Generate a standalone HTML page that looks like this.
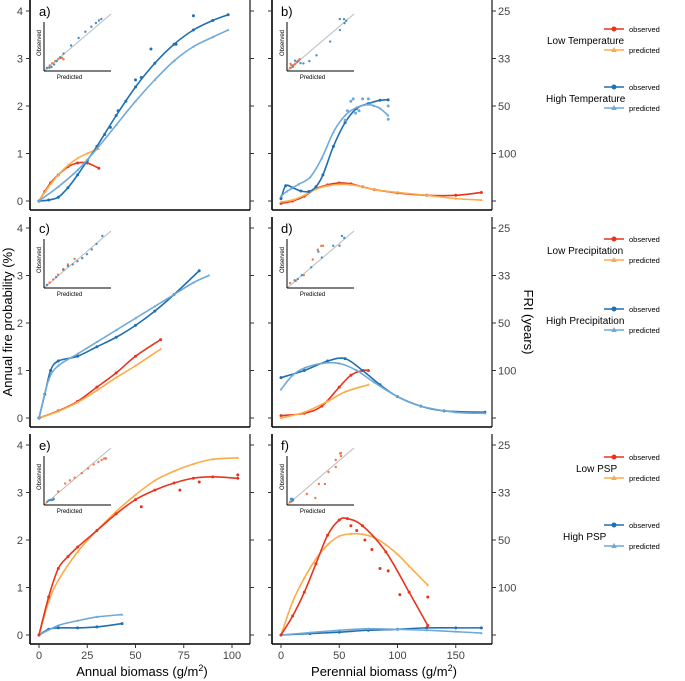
<!DOCTYPE html>
<html><head><meta charset="utf-8"><style>
body{margin:0;background:#fff;}
svg{display:block;font-family:"Liberation Sans",sans-serif;}
</style></head><body>
<svg id="chart" width="685" height="681" viewBox="0 0 685 681" xmlns="http://www.w3.org/2000/svg">
<g id="frames"></g>
<g id="marks"></g>
<text transform="translate(12,322) rotate(-90)" text-anchor="middle" font-size="13" fill="#000">Annual fire probability (%)</text>
<text transform="translate(524,322) rotate(90)" text-anchor="middle" font-size="13" fill="#000">FRI (years)</text>
<text x="142" y="676" text-anchor="middle" font-size="13">Annual biomass (g/m<tspan font-size="9" dy="-5">2</tspan><tspan dy="5">)</tspan></text>
<text x="384" y="676" text-anchor="middle" font-size="13">Perennial biomass (g/m<tspan font-size="9" dy="-5">2</tspan><tspan dy="5">)</tspan></text>
<g id="legend"></g>
</svg>
<script>
const NS="http://www.w3.org/2000/svg";
const RED="#e8341c",ORA="#fdab48",DB="#1f6fb2",LB="#6fa9d8";
// ---- data ----
const yTicks=[0,1,2,3,4];
const friLabels=["100","50","33","25"];
const annualTicks=[0,25,50,75,100];
const perennialTicks=[0,50,100,150];
// panel a
const aLowObsX=[0,3,6,10,15,20,25,31];const aLowObsY=[0,0.2,0.38,0.55,0.72,0.8,0.8,0.69];
const aLowPredX=[0,5,10,15,20,25,31];const aLowPredY=[0,0.3,0.55,0.75,0.9,1.0,1.1];
const aHighObsX=[0,5,10,15,20,25,30,40,50,60,70,80,90,98];const aHighObsY=[0,0.02,0.08,0.28,0.55,0.85,1.15,1.8,2.4,2.9,3.3,3.6,3.8,3.92];
const aHighPredX=[0,10,20,30,40,50,60,70,80,90,98];const aHighPredY=[0,0.3,0.65,1.1,1.6,2.1,2.55,2.95,3.25,3.45,3.6];
const aExtraX=[34,37,41,45,50,53,58,71,80];const aExtraY=[1.4,1.55,1.9,2.1,2.55,2.6,3.2,3.3,3.9];
// panel b
const bLowObsX=[0,10,20,30,40,50,60,70,80,100,125,150,172];const bLowObsY=[-0.05,0.0,0.1,0.26,0.34,0.38,0.36,0.3,0.24,0.17,0.12,0.12,0.18];
const bLowPredX=[0,10,20,30,40,50,60,70,80,100,125,150,172];const bLowPredY=[-0.02,0.02,0.12,0.25,0.32,0.35,0.34,0.3,0.24,0.18,0.12,0.05,0.02];
const bHighObsX=[0,4,10,17,24,30,36,45,55,65,75,85,92];const bHighObsY=[0.05,0.32,0.28,0.21,0.2,0.3,0.55,1.15,1.65,1.95,2.05,2.12,2.13];
const bHighPredX=[0,5,15,25,35,45,55,65,75,80,85,92];const bHighPredY=[0.1,0.2,0.35,0.5,0.9,1.45,1.8,1.97,2.03,2.0,1.95,1.8];
const bExtraX=[55,57,60,62,64,67,70,75,92,92];const bExtraY=[1.7,1.9,2.1,2.15,1.85,1.9,2.15,2.15,2.0,1.72];
// panel c
const cLowObsX=[0,10,20,30,40,50,63];const cLowObsY=[0,0.15,0.35,0.65,0.95,1.3,1.65];
const cLowPredX=[0,10,20,30,40,50,63];const cLowPredY=[0,0.14,0.33,0.58,0.85,1.1,1.45];
const cHighObsX=[0,3,6,10,20,30,40,50,60,70,83];const cHighObsY=[0,0.5,1.0,1.2,1.3,1.5,1.7,1.95,2.25,2.6,3.1];
const cHighPredX=[0,5,10,20,30,40,50,60,70,80,88];const cHighPredY=[0,0.8,1.1,1.35,1.6,1.85,2.1,2.35,2.6,2.85,3.0];
// panel d
const dLowObsX=[0,20,35,50,60,70,75];const dLowObsY=[0.05,0.1,0.25,0.65,0.9,1.0,1.0];
const dLowPredX=[0,20,40,55,75];const dLowPredY=[0,0.12,0.35,0.55,0.7];
const dHighObsX=[0,20,40,55,70,85,100,120,140,175];const dHighObsY=[0.85,1.0,1.2,1.25,1.0,0.7,0.45,0.25,0.15,0.12];
const dHighPredX=[0,10,20,35,50,65,80,100,120,150,175];const dHighPredY=[0.6,0.9,1.05,1.15,1.15,1.0,0.75,0.45,0.25,0.12,0.1];
// panel e
const eLowObsX=[0,5,10,15,20,30,40,50,60,70,80,90,103];const eLowObsY=[0,0.8,1.4,1.65,1.85,2.2,2.55,2.85,3.05,3.2,3.3,3.33,3.3];
const eLowPredX=[0,5,10,20,30,40,50,60,70,80,90,103];const eLowPredY=[0,0.7,1.15,1.75,2.2,2.6,2.95,3.25,3.45,3.6,3.7,3.73];
const eHighObsX=[0,5,10,20,30,43];const eHighObsY=[0,0.12,0.15,0.15,0.17,0.24];
const eHighPredX=[0,10,20,30,43];const eHighPredY=[0,0.2,0.3,0.38,0.43];
const eExtraX=[53,73,83,103];const eExtraY=[2.7,3.05,3.22,3.37];
// panel f
const fLowObsX=[0,10,20,30,40,50,57,70,90,110,126];const fLowObsY=[0,0.4,0.9,1.5,2.1,2.42,2.45,2.3,1.75,0.9,0.2];
const fLowPredX=[0,10,20,30,40,50,60,70,80,90,100,110,126];const fLowPredY=[0,0.7,1.2,1.6,1.9,2.08,2.13,2.12,2.05,1.9,1.7,1.45,1.05];
const fHighObsX=[0,25,50,75,100,125,150,172];const fHighObsY=[0,0.03,0.06,0.1,0.12,0.15,0.15,0.15];
const fHighPredX=[0,25,50,75,100,125,150,172];const fHighPredY=[0,0.05,0.1,0.13,0.12,0.1,0.07,0.04];
const fExtraX=[60,65,72,78,85,92,102,126];const fExtraY=[2.3,2.2,2.0,1.8,1.4,1.35,0.85,0.8];

// ---- scales ----
const rowY0=[201,418,635];
const xAnnual=v=>39+v*1.93;
const xPer=v=>281+v*1.165;
const yRow=r=>v=>rowY0[r]-v*47.5;

const frames=document.getElementById('frames'),marks=document.getElementById('marks'),legend=document.getElementById('legend');
function el(tag,attrs,parent){const e=document.createElementNS(NS,tag);for(const k in attrs)e.setAttribute(k,attrs[k]);parent.appendChild(e);return e;}
function smooth(pts){let d=`M${pts[0][0]},${pts[0][1]}`;for(let i=0;i<pts.length-1;i++){const p0=pts[Math.max(0,i-1)],p1=pts[i],p2=pts[i+1],p3=pts[Math.min(pts.length-1,i+2)];
const c1=[p1[0]+(p2[0]-p0[0])/6,p1[1]+(p2[1]-p0[1])/6],c2=[p2[0]-(p3[0]-p1[0])/6,p2[1]-(p3[1]-p1[1])/6];d+=`C${c1[0]},${c1[1]} ${c2[0]},${c2[1]} ${p2[0]},${p2[1]}`;}return d;}
function interp(X,Y,x){if(x<=X[0])return Y[0];for(let i=1;i<X.length;i++){if(x<=X[i]){const t=(x-X[i-1])/(X[i]-X[i-1]);return Y[i-1]+t*(Y[i]-Y[i-1]);}}return Y[Y.length-1];}

const panels=[
 {n:'a',r:0,c:0,series:[[aLowObsX,aLowObsY,RED,1],[aLowPredX,aLowPredY,ORA,0],[aHighObsX,aHighObsY,DB,1],[aHighPredX,aHighPredY,LB,0]],ex:[aExtraX,aExtraY,DB]},
 {n:'b',r:0,c:1,series:[[bLowObsX,bLowObsY,RED,1],[bLowPredX,bLowPredY,ORA,0],[bHighObsX,bHighObsY,DB,1],[bHighPredX,bHighPredY,LB,0]],ex:[bExtraX,bExtraY,LB]},
 {n:'c',r:1,c:0,series:[[cLowObsX,cLowObsY,RED,1],[cLowPredX,cLowPredY,ORA,0],[cHighObsX,cHighObsY,DB,1],[cHighPredX,cHighPredY,LB,0]]},
 {n:'d',r:1,c:1,series:[[dLowObsX,dLowObsY,RED,1],[dLowPredX,dLowPredY,ORA,0],[dHighObsX,dHighObsY,DB,1],[dHighPredX,dHighPredY,LB,0]]},
 {n:'e',r:2,c:0,series:[[eHighObsX,eHighObsY,DB,1],[eHighPredX,eHighPredY,LB,0],[eLowPredX,eLowPredY,ORA,0],[eLowObsX,eLowObsY,RED,1]],ex:[eExtraX,eExtraY,RED]},
 {n:'f',r:2,c:1,series:[[fHighObsX,fHighObsY,DB,1],[fHighPredX,fHighPredY,LB,0],[fLowPredX,fLowPredY,ORA,0],[fLowObsX,fLowObsY,RED,1]],ex:[fExtraX,fExtraY,RED]}
];

panels.forEach(p=>{
 const L=p.c?272:30,R=p.c?492:250,y0=rowY0[p.r],B=y0+9,T=y0-201;
 const xs=p.c?xPer:xAnnual,ys=yRow(p.r);
 const g=el('g',{},frames);
 
 
 el('line',{x1:L,y1:T,x2:L,y2:B,stroke:'#000','stroke-width':1.6},g);
 el('line',{x1:R,y1:T,x2:R,y2:B,stroke:'#000','stroke-width':1.1},g);
 el('line',{x1:L,y1:B,x2:R,y2:B,stroke:'#000','stroke-width':1.6},g);
 yTicks.forEach((t,i)=>{const y=ys(t);
  el('line',{x1:L-4,y1:y,x2:L,y2:y,stroke:'#333'},g);
  el('line',{x1:R,y1:y,x2:R+4,y2:y,stroke:'#333'},g);
  if(!p.c){const tx=el('text',{x:L-7,y:y+4,'text-anchor':'end','font-size':11,fill:'#444'},g);tx.textContent=t;}
  if(p.c&&i>0){const tx=el('text',{x:R+6,y:y+4,'font-size':11,fill:'#444'},g);tx.textContent=friLabels[i-1];}
 });
 if(p.r==2){(p.c?perennialTicks:annualTicks).forEach(t=>{const x=xs(t);el('line',{x1:x,y1:B,x2:x,y2:B+4,stroke:'#333'},g);
  const tx=el('text',{x:x,y:B+15,'text-anchor':'middle','font-size':11,fill:'#444'},g);tx.textContent=t;});}
 const lab=el('text',{x:L+9,y:T+16,'font-size':13},g);lab.textContent=p.n+')';
 // inset: observed vs predicted
 const ix=L+14+(p.c?1:0),ib=T+71,iw=67,ih=57;
 const ig=el('g',{},g);
 
 
 el('line',{x1:ix,y1:ib,x2:ix+iw,y2:ib-ih,stroke:'#bbb','stroke-width':1},ig);
 el('line',{x1:ix,y1:ib-ih+8,x2:ix,y2:ib,stroke:'#000','stroke-width':1},ig);
 el('line',{x1:ix,y1:ib,x2:ix+iw,y2:ib,stroke:'#000','stroke-width':1},ig);
 const t1=el('text',{x:ix+iw/2-8,y:ib+8,'text-anchor':'middle','font-size':6},ig);t1.textContent='Predicted';
 const t2=el('text',{transform:`translate(${ix-3},${ib-28}) rotate(-90)`,'text-anchor':'middle','font-size':6},ig);t2.textContent='Observed';
 let mx=0;p.series.forEach(s=>s[1].forEach(v=>{if(v>mx)mx=v;}));
 for(let k=0;k<4;k+=2){
  const obs=p.series[k][3]?p.series[k]:p.series[k+1],pred=p.series[k][3]?p.series[k+1]:p.series[k];
  const col=obs[2]==RED?'#f07a4a':'#4a90c8';
  obs[0].forEach((xv,i)=>{const pv=interp(pred[0],pred[1],xv),ov=obs[1][i];
   const px=ix+3+Math.max(0,pv)/mx*(iw-8),py=ib-3-Math.max(0,ov)/mx*(ih-8);
   const m=el('circle',{cx:px,cy:py,r:1.2,fill:col},ig);
   
   });
 }
 // series
 p.series.forEach(s=>{const pts=s[0].map((xv,i)=>[xs(xv),ys(s[1][i])]);
  const path=el('path',{d:smooth(pts),fill:'none',stroke:s[2],'stroke-width':1.6},marks);
  
  
  pts.forEach(q=>{let m;if(s[3])m=el('circle',{cx:q[0],cy:q[1],r:1.5,fill:s[2]},marks);else m=el('path',{d:`M${q[0]},${q[1]-1.6}l1.4,2.6h-2.8z`,fill:s[2]},marks);
   
   });});
 if(p.ex){p.ex[0].forEach((xv,i)=>{const m=el('circle',{cx:xs(xv),cy:ys(p.ex[1][i]),r:1.5,fill:p.ex[2]},marks);
  
  });}
});

// legend
const groups=[["Low Temperature",40,RED,ORA,547],["High Temperature",98,DB,LB,546],["Low Precipitation",250,RED,ORA,547],["High Precipitation",320,DB,LB,546],["Low PSP",468,RED,ORA,576],["High PSP",536,DB,LB,563]];
groups.forEach(gp=>{const g=el('g',{},legend);
 
 
 const t=el('text',{x:gp[4],y:gp[1]+4,'font-size':10},g);t.textContent=gp[0];
 [[gp[1]-11,gp[2],'observed',1],[gp[1]+10,gp[3],'predicted',0]].forEach(it=>{
  const e=el('g',{},g);
  
  
  el('line',{x1:604,y1:it[0],x2:624,y2:it[0],stroke:it[1],'stroke-width':1.5},e);
  if(it[3])el('circle',{cx:614,cy:it[0],r:2.5,fill:it[1]},e);else el('path',{d:`M614,${it[0]-3}l2.8,5h-5.6z`,fill:it[1]},e);
  const tt=el('text',{x:629,y:it[0]+3,'font-size':7.5},e);tt.textContent=it[2];});
});
</script>
</body></html>
